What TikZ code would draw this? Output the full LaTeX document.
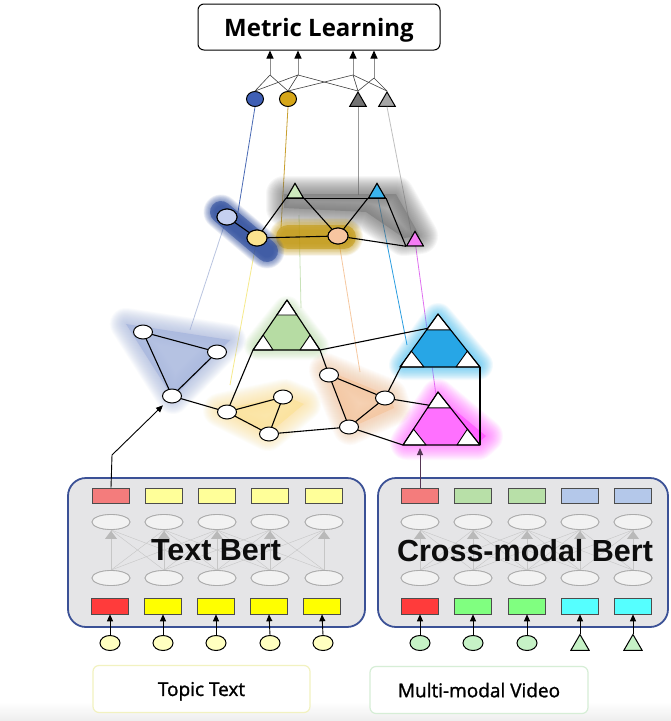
\documentclass[tikz,border=0pt]{standalone}
\usepackage{fontspec}
\setmainfont{Liberation Sans}
\newfontfamily\osans{Open Sans}
\newfontfamily\osansm[FakeBold=1.3]{Open Sans}
\usetikzlibrary{shapes.geometric,arrows.meta,calc}
\definecolor{boxblue}{HTML}{3B5196}
\definecolor{boxfill}{HTML}{E5E5E7}
\definecolor{tokred}{HTML}{F47C7C}
\definecolor{tokredB}{HTML}{FF3B3B}
\definecolor{tokyel}{HTML}{FFFF99}
\definecolor{tokyelB}{HTML}{FFFF00}
\definecolor{tokgrn}{HTML}{B8E0A8}
\definecolor{tokgrnB}{HTML}{80FF80}
\definecolor{tokblu}{HTML}{B4C8EA}
\definecolor{tokcyaB}{HTML}{55FFFF}
\definecolor{inyel}{HTML}{FFFFC0}
\definecolor{ingrn}{HTML}{C6F2C6}
\definecolor{clblue}{HTML}{A9B8DE}
\definecolor{clgreen}{HTML}{B6DCA3}
\definecolor{clyellow}{HTML}{FBE29A}
\definecolor{clorange}{HTML}{F4C6A0}
\definecolor{clsky}{HTML}{27A6E6}
\definecolor{clskyglow}{HTML}{3DBDF5}
\definecolor{clpink}{HTML}{FF70FF}
\definecolor{clpinkglow}{HTML}{FF5CFF}
\definecolor{bldark}{HTML}{2A4A9C}
\definecolor{blgold}{HTML}{C29810}
\definecolor{blgray}{HTML}{6E6E6E}
% soft (blurred) filled region: colour, core opacity, glow width, path
\newcommand\softfill[4]{%
  \foreach \k in {1,...,18}{\draw[#1,line width={#3*\k/18*1pt},opacity=0.055,line join=round,line cap=round] #4;}%
  \fill[#1,opacity=#2] #4;}
% soft (blurred) thick stroke: colour, core width, glow width, path
\newcommand\softline[4]{%
  \foreach \k in {1,...,18}{\draw[#1,line width={(#2*0.5+#3*\k/18)*1pt},opacity=0.07,line cap=round,line join=round] #4;}%
  \draw[#1,line width={#2*1pt},opacity=0.55,line cap=round,line join=round] #4;}
\newcommand\tricluster[4]{%
  \fill[#4] (#1) -- (#2) -- (#3) -- cycle;
  \filldraw[fill=white,draw=black,line width=0.9pt,line join=round] (#1) -- ($(#1)!0.3!(#2)$) -- ($(#1)!0.3!(#3)$) -- cycle;
  \filldraw[fill=white,draw=black,line width=0.9pt,line join=round] (#2) -- ($(#2)!0.3!(#1)$) -- ($(#2)!0.3!(#3)$) -- cycle;
  \filldraw[fill=white,draw=black,line width=0.9pt,line join=round] (#3) -- ($(#3)!0.3!(#1)$) -- ($(#3)!0.3!(#2)$) -- cycle;
  \draw[line width=1.1pt,line join=round] (#1) -- (#2) -- (#3) -- cycle;}
\begin{document}
\begin{tikzpicture}[x=1pt,y=-1pt,
  mcirc/.style={ellipse,draw,fill=white,line width=1pt,minimum width=19pt,minimum height=14pt,inner sep=0pt},
  tcirc/.style={ellipse,draw,line width=1pt,minimum width=20pt,minimum height=16pt,inner sep=0pt},
  ttri/.style={regular polygon,regular polygon sides=3,draw,line width=1pt,minimum size=19pt,inner sep=0pt},
  topc/.style={ellipse,draw,line width=1pt,minimum width=17pt,minimum height=15pt,inner sep=0pt},
  tok/.style={rectangle,draw=black!70,line width=0.6pt,minimum width=37pt,minimum height=15pt,inner sep=0pt},
  hid/.style={ellipse,draw=black!33,fill=gray!10,line width=0.8pt,minimum width=38pt,minimum height=15pt,inner sep=0pt},
  inc/.style={ellipse,draw,line width=1pt,minimum width=20pt,minimum height=15pt,inner sep=0pt},
  intri/.style={regular polygon,regular polygon sides=3,draw,line width=1pt,minimum size=21pt,inner sep=0pt},
  arr/.style={-{Triangle[length=7pt,width=6pt]},line width=0.9pt},
  fanline/.style={black!75,line width=0.6pt},
  edge/.style={line width=1.1pt},
  thin/.style={line width=0.8pt},
  bertbox/.style={draw=boxblue,fill=boxfill,line width=1.8pt,rounded corners=18pt},
  bertlabel/.style={font=\bfseries\fontsize{30.5}{32}\selectfont,text=black!95,text depth=0pt,inner sep=0pt},
  srclabel/.style={draw,fill=white,line width=1.2pt,rounded corners=6pt,minimum width=217pt,minimum height=47pt,font=\osansm\fontsize{19}{21}\selectfont,text depth=0pt}
]
\useasboundingbox (0,0) rectangle (671,721);
\fill[white] (0,0) rectangle (671,721);
\shade[top color=white,bottom color=gray!14] (0,702) rectangle (671,721);

% ---------- Metric learning ----------
\node[draw,line width=1pt,rounded corners=6pt,minimum width=242pt,minimum height=46pt,
      font=\osans\bfseries\fontsize{24}{26}\selectfont,text depth=0pt] (ml) at (319,27) {Metric Learning};
\coordinate (J1) at (270,75);
\coordinate (J2) at (298,75);
\coordinate (J3) at (353,75);
\coordinate (J4) at (374,78);
\node[topc,fill={rgb,255:red,63;green,95;blue,181}] (tp1) at (255,99) {};
\node[topc,fill={rgb,255:red,214;green,166;blue,24}] (tp2) at (288,99) {};
\node[ttri,fill=black!55] (tp3) at (358,101.5) {};
\node[ttri,fill=black!35] (tp4) at (387,101.5) {};
\foreach \j in {J1,J2,J3,J4}{
  \draw[line width=1pt,black!45,-{Triangle[length=8pt,width=7pt,black]}] (\j) -- (\j |- ml.south);}
\draw[fanline] (tp1.north) -- (J1);
\draw[fanline] (tp1.north) -- (J2);
\draw[fanline] (tp2.north) -- (J1);
\draw[fanline] (tp2.north) -- (J2);
\draw[fanline] (tp2.north) -- (J3);
\draw[fanline] (tp3.corner 1) -- (J2);
\draw[fanline] (tp3.corner 1) -- (J3);
\draw[fanline] (tp3.corner 1) -- (J4);
\draw[fanline] (tp4.corner 1) -- (J3);
\draw[fanline] (tp4.corner 1) -- (J4);

% ---------- coordinates of top graph ----------
\coordinate (tCp) at (227,217);
\coordinate (tYp) at (257,238);
\coordinate (tOp) at (338,236);
\coordinate (tGp) at (295,193);
\coordinate (tBp) at (377,193);
\coordinate (tMp) at (415,241);

% thin connectors between levels (drawn under the blobs)
\coordinate (e1) at (238,212);
\coordinate (e2) at (281,228);
\coordinate (e3) at (358,195);
\coordinate (e4) at (412,236);
\draw[thin,draw={rgb,255:red,74;green,107;blue,181}] (tp1.south) -- (e1);
\draw[thin,draw={rgb,255:red,200;green,160;blue,48}] (tp2.south) -- (e2);
\draw[thin,draw=black!40] (tp3.south) -- (e3);
\draw[thin,draw=black!25] (tp4.south) -- (e4);

\coordinate (m1) at (190,330);
\coordinate (m2) at (230,385);
\coordinate (m3a) at (299,215);
\coordinate (m3) at (301,308);
\coordinate (m4) at (360,372);
\coordinate (m5) at (407,345);
\coordinate (m6) at (436,395);
\draw[thin,draw={rgb,255:red,185;green,196;blue,224}] (tCp) -- (m1);
\draw[thin,draw={rgb,255:red,246;green,234;blue,140}] (tYp) -- (m2);
\draw[thin,draw={rgb,255:red,200;green,226;blue,184}] (m3a) -- (m3);
\draw[thin,draw={rgb,255:red,246;green,200;blue,160}] (tOp) -- (m4);
\draw[thin,draw={rgb,255:red,42;green,157;blue,224}] (tBp) -- (m5);
\draw[thin,draw={rgb,255:red,224;green,112;blue,240}] (tMp) -- (m6);

% ---------- top graph blobs ----------
\softfill{blgray}{0.45}{36}{(284,194) -- (396,194) -- (420,236) -- (404,238) -- (366,212) -- (284,208) -- cycle}
\softline{blgold}{24}{26}{(288,237) -- (344,237)}
\softline{bldark}{22}{24}{(221,212) -- (267,251)}

% ---------- top graph ----------
\node[tcirc,fill={rgb,255:red,197;green,208;blue,240}] (tC) at (tCp) {};
\node[tcirc,fill={rgb,255:red,251;green,227;blue,143}] (tY) at (tYp) {};
\node[tcirc,fill={rgb,255:red,247;green,197;blue,160}] (tO) at (tOp) {};
\node[ttri,fill={rgb,255:red,205;green,232;blue,189}] (tG) at (tGp) {};
\node[ttri,fill={rgb,255:red,58;green,180;blue,238}] (tB) at (tBp) {};
\node[ttri,fill={rgb,255:red,245;green,124;blue,245}] (tM) at (tMp) {};
\draw[edge] (tC) -- (tY);
\draw[edge] (tY) -- (tG.corner 2);
\draw[edge] (tY) -- (tO);
\draw[edge] (tG.corner 3) -- (tO);
\draw[edge] (tG.corner 2) -- (tB.corner 3);
\draw[edge] (tB.corner 2) -- (tO);
\draw[edge] (tB.corner 3) -- (tM.corner 2);
\draw[edge] (tO) -- (tM.corner 2);
\node[tcirc,fill={rgb,255:red,197;green,208;blue,240}] at (tCp) {};
\node[tcirc,fill={rgb,255:red,251;green,227;blue,143}] at (tYp) {};
\node[tcirc,fill={rgb,255:red,247;green,197;blue,160}] at (tOp) {};
\node[ttri,fill={rgb,255:red,205;green,232;blue,189}] at (tGp) {};
\node[ttri,fill={rgb,255:red,58;green,180;blue,238}] at (tBp) {};
\node[ttri,fill={rgb,255:red,245;green,124;blue,245}] at (tMp) {};

% ---------- middle graph ----------
\coordinate (gA) at (287,300);
\coordinate (gB) at (253,350);
\coordinate (gC) at (320,350);
\coordinate (bA) at (438,314);
\coordinate (bB) at (400,367);
\coordinate (bC) at (480,367);
\coordinate (pA) at (438,392);
\coordinate (pB) at (403,445);
\coordinate (pC) at (480,445);
\coordinate (mB1) at (143,332);
\coordinate (mB2) at (217,352);
\coordinate (mB3) at (172,396);
\coordinate (mY1) at (227,412);
\coordinate (mY2) at (283,397);
\coordinate (mY3) at (269,434);
\coordinate (mO1) at (329,375);
\coordinate (mO2) at (385,398);
\coordinate (mO3) at (349,427);

\softfill{clblue}{0.85}{32}{(126,324) -- (230,340) -- (173,398) -- cycle}
\softfill{clyellow}{0.8}{34}{(220,410) -- (285,396) -- (304,404) -- (268,434) -- cycle}
\softfill{clorange}{0.8}{34}{(326,370) -- (390,396) -- (394,408) -- (350,428) -- cycle}
\softfill{clgreen}{0.85}{28}{(287,310) -- (258,346) -- (315,346) -- cycle}
\softfill{clskyglow}{0.9}{30}{(438,318) -- (404,365) -- (478,365) -- cycle}
\softfill{clpinkglow}{0.9}{34}{(438,396) -- (407,443) -- (478,443) -- (486,436) -- cycle}

\tricluster{gA}{gB}{gC}{clgreen}
\tricluster{bA}{bB}{bC}{clsky}
\tricluster{pA}{pB}{pC}{clpink}

\coordinate (bL1) at ($(bA)!0.27!(bB)$);
\coordinate (bL2) at ($(bA)!0.93!(bB)$);
\coordinate (pL1) at ($(pA)!0.25!(pB)$);
\draw[edge] (bC) -- (pC);
\draw[edge] (mB1) -- (mB2) -- (mB3) -- cycle;
\draw[edge] (mB3) -- (mY1);
\draw[edge] (mY1) -- (gB);
\draw[edge] (mY1) -- (mY2) -- (mY3) -- cycle;
\draw[edge] (mY3) -- (mO3);
\draw[edge] (gC) -- (mO1);
\draw[edge] (gC) -- (bL1);
\draw[edge] (mO1) -- (mO2) -- (mO3) -- cycle;
\draw[edge] (mO2) -- (bL2);
\draw[edge] (mO2) -- (pL1);
\draw[edge] (mO3) -- (pB);
\foreach \n in {mB1,mB2,mB3,mY1,mY2,mY3,mO1,mO2,mO3}{\node[mcirc] (\n n) at (\n) {};}

% ---------- Bert boxes ----------
\node[bertbox,minimum width=297pt,minimum height=149pt] (tbox) at (216.5,552.5) {};
\node[bertbox,minimum width=290pt,minimum height=149pt] (cbox) at (523,552.5) {};

\foreach \x [count=\i] in {111,164,217,270,324}{
  \node[hid] (ht\i) at (\x,522) {};
  \node[hid] (hb\i) at (\x,578) {};}
\foreach \x [count=\i] in {420,473,527,580,633}{
  \node[hid] (kt\i) at (\x,522) {};
  \node[hid] (kb\i) at (\x,578) {};}
\foreach \i in {1,...,5}{\foreach \j in {1,...,5}{
  \pgfmathtruncatemacro\dd{abs(\i-\j)}
  \ifnum\dd<3
    \draw[gray!45,line width=0.4pt] (hb\i.north) -- (ht\j.south);
    \draw[gray!45,line width=0.4pt] (kb\i.north) -- (kt\j.south);
  \fi}}
\foreach \x [count=\i] in {111,164,217,270,324}{
  \node[hid] at (\x,522) {};
  \node[hid] at (\x,578) {};
  \fill[gray!55] ($(ht\i.south)+(-6,9)$) -- ($(ht\i.south)+(6,9)$) -- ($(ht\i.south)+(0,1)$) -- cycle;}
\foreach \x [count=\i] in {420,473,527,580,633}{
  \node[hid] at (\x,522) {};
  \node[hid] at (\x,578) {};
  \fill[gray!55] ($(kt\i.south)+(-6,9)$) -- ($(kt\i.south)+(6,9)$) -- ($(kt\i.south)+(0,1)$) -- cycle;}

% tokens
\node[tok,fill=tokred] (r1) at (111,495.5) {};
\node[tok,fill=tokyel] (r2) at (164,495.5) {};
\node[tok,fill=tokyel] (r3) at (217,495.5) {};
\node[tok,fill=tokyel] (r4) at (270,495.5) {};
\node[tok,fill=tokyel] (r5) at (324,495.5) {};
\node[tok,fill=tokredB,minimum height=16pt] (s1) at (110,606) {};
\node[tok,fill=tokyelB,minimum height=16pt] (s2) at (163,606) {};
\node[tok,fill=tokyelB,minimum height=16pt] (s3) at (216,606) {};
\node[tok,fill=tokyelB,minimum height=16pt] (s4) at (269,606) {};
\node[tok,fill=tokyelB,minimum height=16pt] (s5) at (322,606) {};
\node[tok,fill=tokred] (c1) at (420,495.5) {};
\node[tok,fill=tokgrn] (c2) at (473,495.5) {};
\node[tok,fill=tokgrn] (c3) at (527,495.5) {};
\node[tok,fill=tokblu] (c4) at (580,495.5) {};
\node[tok,fill=tokblu] (c5) at (633,495.5) {};
\node[tok,fill=tokredB,minimum height=16pt] (d1) at (420,606) {};
\node[tok,fill=tokgrnB,minimum height=16pt] (d2) at (473,606) {};
\node[tok,fill=tokgrnB,minimum height=16pt] (d3) at (527,606) {};
\node[tok,fill=tokcyaB,minimum height=16pt] (d4) at (580,606) {};
\node[tok,fill=tokcyaB,minimum height=16pt] (d5) at (633,606) {};

\node[bertlabel] (tbl) at (216,550) {Text Bert};
\node[bertlabel] (cbl) at (525,550) {Cross-modal Bert};

% inputs
\foreach \i/\x in {1/110,2/163,3/216,4/270,5/323}{
  \node[inc,fill=inyel] (ti\i) at (\x,643) {};
  \draw[arr] (ti\i.north) -- (s\i.south);}
\foreach \i/\x in {1/420,2/473,3/527}{
  \node[inc,fill=ingrn] (ci\i) at (\x,643) {};
  \draw[arr] (ci\i.north) -- (d\i.south);}
\foreach \i/\x in {4/580,5/633}{
  \node[intri,fill=ingrn] (ci\i) at (\x,645) {};
  \draw[arr] (ci\i.corner 1) -- (d\i.south);}

% arrows into the graph
\coordinate (bend) at (112,455);
\draw[arr] (r1.north) -- (bend) -- ($(mB3n.south west)+(-2,4)$);
\draw[line width=0.9pt,draw={rgb,255:red,85;green,55;blue,85},-{Triangle[length=7pt,width=6pt]}] (c1.north) -- (c1.north |- 0,448);

% source labels
\node[srclabel,draw={rgb,255:red,242;green,242;blue,192}] (src1) at (201.5,689) {Topic Text};
\node[srclabel,draw={rgb,255:red,214;green,238;blue,214},minimum width=218pt] (src2) at (479,690) {Multi-modal Video};
\end{tikzpicture}
\end{document}
